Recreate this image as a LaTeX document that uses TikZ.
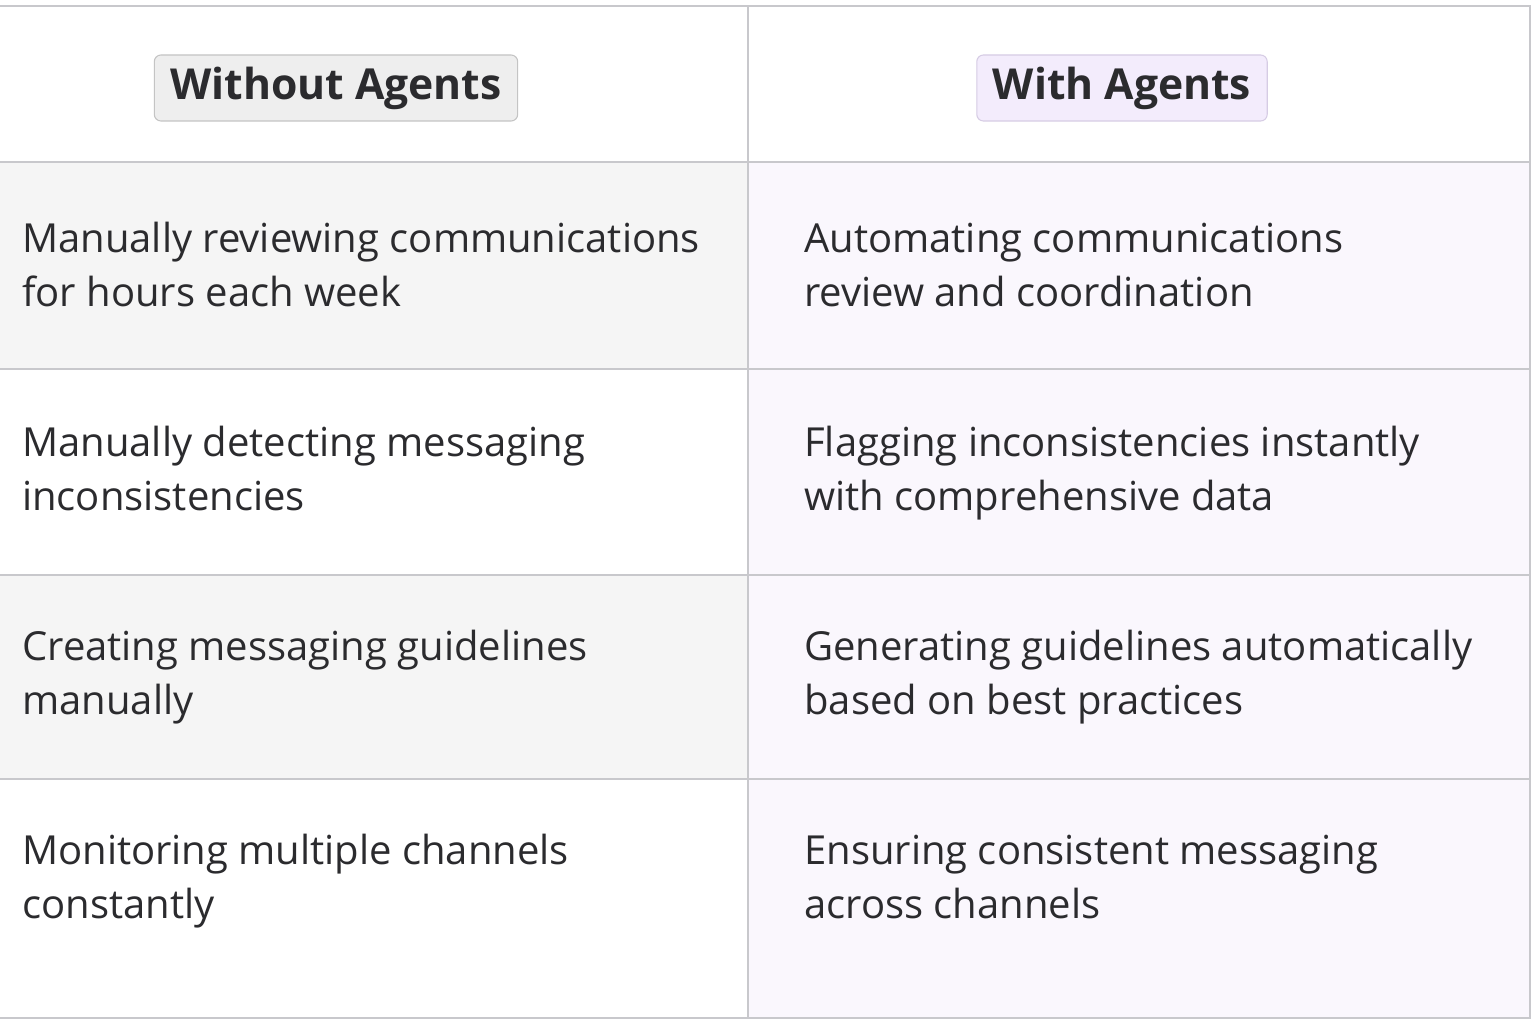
\documentclass[tikz,border=0pt]{standalone}
\usepackage{fontspec}
\setmainfont{Open Sans}
\definecolor{gline}{HTML}{C8C8CC}
\definecolor{grayrow}{HTML}{F5F5F5}
\definecolor{purprow}{HTML}{FAF7FD}
\definecolor{txt}{HTML}{2B2B2E}
\definecolor{lpill}{HTML}{EEEEEE}
\definecolor{lpillb}{HTML}{C4C4C4}
\definecolor{rpill}{HTML}{F3ECFC}
\definecolor{rpillb}{HTML}{D6CCE4}
\newcommand{\tl}[2]{\strut #1\\\strut #2}
\begin{document}
\begin{tikzpicture}[x=0.75pt,y=-0.75pt,
  cell/.style={anchor=west,align=left,text=txt,font=\fontsize{30}{40.5}\selectfont,inner sep=0pt},
  pill/.style={rounded corners=5pt,line width=0.8pt,font=\fontsize{32}{36}\selectfont\bfseries,text=txt,minimum height=49.5pt,inner xsep=12pt,text height=26pt,text depth=8pt}]
\useasboundingbox (0,0) rectangle (1536,1024);
\fill[white] (0,0) rectangle (1536,1024);
\fill[grayrow] (0,162) rectangle (748,369);
\fill[grayrow] (0,575) rectangle (748,779);
\fill[purprow] (748,162) rectangle (1530,1018);
\draw[gline,line width=1pt] (0,6) -- (1530,6) -- (1530,1018) -- (0,1018);
\draw[gline,line width=1pt] (748,6) -- (748,1018);
\foreach \y in {162,369,575,779} \draw[gline,line width=0.8pt] (0,\y) -- (1530,\y);
\node[pill,draw=lpillb,fill=lpill] (h1) at (336,88) {Without Agents};
\node[pill,draw=rpillb,fill=rpill] (h2) at (1122,88) {With Agents};
\node[cell] (l1) at (22,269) {\tl{Manually reviewing communications}{for hours each week}};
\node[cell] (l2) at (22,473) {\tl{Manually detecting messaging}{inconsistencies}};
\node[cell] (l3) at (22,677) {\tl{Creating messaging guidelines}{manually}};
\node[cell] (l4) at (22,881) {\tl{Monitoring multiple channels}{constantly}};
\node[cell] (r1) at (804,269) {\tl{Automating communications}{review and coordination}};
\node[cell] (r2) at (804,473) {\tl{Flagging inconsistencies instantly}{with comprehensive data}};
\node[cell] (r3) at (804,677) {\tl{Generating guidelines automatically}{based on best practices}};
\node[cell] (r4) at (804,881) {\tl{Ensuring consistent messaging}{across channels}};
\end{tikzpicture}
\end{document}
